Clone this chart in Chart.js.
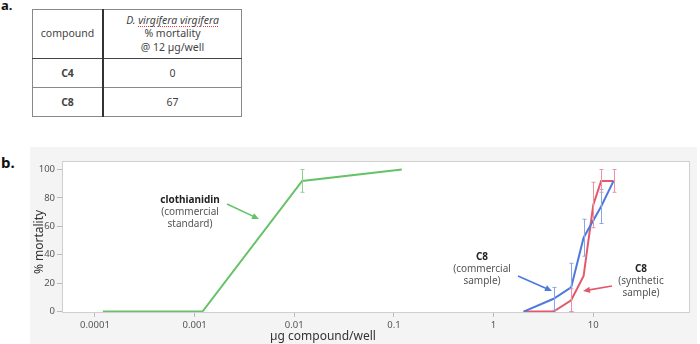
<!DOCTYPE html>
<html>
<head>
<meta charset="utf-8">
<script src="https://cdn.jsdelivr.net/npm/chart.js@4/dist/chart.umd.min.js"></script>
<style>
  html, body { margin: 0; padding: 0; background: #fff; }
  body { width: 700px; height: 344px; position: relative; overflow: hidden; font-family: "Noto Sans", sans-serif; }
  .lbl { position: absolute; font-weight: bold; color: #111; }
  #panel { position: absolute; left: 30px; top: 147px; width: 667px; height: 197px; background: #f4f4f4; }
  #chart { position: absolute; left: 0; top: 0; }
  table { position: absolute; left: 32px; top: 9px; width: 210px; border-collapse: collapse; font-size: 10.5px; color: #444; }
  td { border: 1px solid #888; text-align: center; padding: 0; }
  td.c1 { width: 69px; border-right: 2px solid #333; }
  tr.h td { height: 48px; line-height: 13.5px; border-bottom: 1px solid #444; }
  tr.r td { height: 28px; }
  .sp { text-decoration: underline dotted #e04040; text-decoration-thickness: 1px; text-underline-offset: 2px; }
</style>
</head>
<body>
<div class="lbl" style="left:1px; top:-4px; font-size:13px;">a.</div>
<div class="lbl" style="left:1px; top:152px; font-size:15px;">b.</div>

<table>
  <tr class="h"><td class="c1">compound</td><td><i>D. <span class="sp">virgifera</span> <span class="sp">virgifera</span></i><br>% mortality<br>@ 12 µg/well</td></tr>
  <tr class="r"><td class="c1"><b>C4</b></td><td>0</td></tr>
  <tr class="r"><td class="c1"><b>C8</b></td><td>67</td></tr>
</table>

<div id="panel"></div>
<canvas id="chart" width="700" height="344"></canvas>

<script>
// tick labels
const xTicks = [0.0001, 0.001, 0.01, 0.1, 1, 10];
const yTicks = [0, 20, 40, 60, 80, 100];

// clothianidin (commercial standard)
const clothDose = [0.00012, 0.0012, 0.012, 0.12];
const clothMort = [0, 0, 92, 100];
const clothErr  = [0, 0, 8, 0];

// C8 commercial sample
const c8comDose = [2, 4, 6, 8, 12, 16];
const c8comMort = [0, 9, 17, 52, 74, 92];
const c8comErr  = [0, 8, 17, 13, 12, 0];

// C8 synthetic sample
const c8synDose = [2, 4, 6, 8, 10, 12, 16];
const c8synMort = [0, 0, 8, 25, 75, 92, 92];
const c8synErr  = [0, 0, 8, 0, 16, 8, 8];

const GREEN = '#66c266';
const BLUE = '#4d79dc';
const RED = '#e2596b';

function points(xs, ys, errs) {
    return xs.map((x, i) => ({ x: x, y: ys[i], err: errs[i] }));
}

function arrow(ctx, x1, y1, x2, y2, color) {
    const a = Math.atan2(y2 - y1, x2 - x1);
    ctx.save();
    ctx.strokeStyle = color;
    ctx.fillStyle = color;
    ctx.lineWidth = 1.6;
    ctx.beginPath();
    ctx.moveTo(x1, y1);
    ctx.lineTo(x2 - 5 * Math.cos(a), y2 - 5 * Math.sin(a));
    ctx.stroke();
    ctx.beginPath();
    ctx.moveTo(x2, y2);
    ctx.lineTo(x2 - 7 * Math.cos(a) + 3.2 * Math.sin(a), y2 - 7 * Math.sin(a) - 3.2 * Math.cos(a));
    ctx.lineTo(x2 - 7 * Math.cos(a) - 3.2 * Math.sin(a), y2 - 7 * Math.sin(a) + 3.2 * Math.cos(a));
    ctx.closePath();
    ctx.fill();
    ctx.restore();
}

function note(ctx, cx, cy, lines) {
    ctx.save();
    ctx.textAlign = 'center';
    ctx.textBaseline = 'middle';
    lines.forEach((t, i) => {
        ctx.font = (i === 0 ? 'bold ' : '') + '10px "Noto Sans", sans-serif';
        ctx.fillStyle = i === 0 ? '#222' : '#555';
        ctx.fillText(t, cx, cy + i * 12);
    });
    ctx.restore();
}

const decor = {
    id: 'decor',
    beforeDraw(chart) {
        const { ctx, chartArea: a } = chart;
        ctx.save();
        ctx.fillStyle = '#ffffff';
        ctx.fillRect(a.left, a.top, a.right - a.left, a.bottom - a.top);
        ctx.restore();
    },
    afterDatasetsDraw(chart) {
        const { ctx, chartArea: a, scales } = chart;
        ctx.save();
        ctx.strokeStyle = '#cfcfcf';
        ctx.lineWidth = 1;
        ctx.strokeRect(a.left + 0.5, a.top + 0.5, a.right - a.left - 1, a.bottom - a.top - 1);

        // error bars
        chart.data.datasets.forEach(ds => {
            ctx.strokeStyle = ds.errColor;
            ctx.lineWidth = 1;
            ds.data.forEach(p => {
                if (!p.err) return;
                const x = Math.round(scales.x.getPixelForValue(p.x)) + 0.5;
                const yt = scales.y.getPixelForValue(Math.min(p.y + p.err, 106));
                const yb = scales.y.getPixelForValue(Math.max(p.y - p.err, 0));
                ctx.beginPath();
                ctx.moveTo(x, yt); ctx.lineTo(x, yb);
                ctx.moveTo(x - 2, yt); ctx.lineTo(x + 2, yt);
                ctx.moveTo(x - 2, yb); ctx.lineTo(x + 2, yb);
                ctx.stroke();
            });
        });

        // annotations
        note(ctx, 190, 200, ['clothianidin', '(commercial', 'standard)']);
        arrow(ctx, 227, 204, 259, 219, GREEN);
        note(ctx, 482, 257, ['C8', '(commercial', 'sample)']);
        arrow(ctx, 518, 276, 552, 291, BLUE);
        note(ctx, 641, 269, ['C8', '(synthetic', 'sample)']);
        arrow(ctx, 612, 286, 583, 291, RED);

        // axis titles
        ctx.fillStyle = '#333';
        ctx.font = '12px "Noto Sans", sans-serif';
        ctx.textAlign = 'center';
        ctx.textBaseline = 'middle';
        ctx.fillText('µg compound/well', 323, 337);
        ctx.translate(40, 242);
        ctx.rotate(-Math.PI / 2);
        ctx.fillText('% mortality', 0, 0);
        ctx.restore();
    }
};

new Chart(document.getElementById('chart').getContext('2d'), {
    type: 'line',
    data: {
        datasets: [
            { label: 'clothianidin', data: points(clothDose, clothMort, clothErr), borderColor: GREEN, errColor: '#8fd08f' },
            { label: 'C8 commercial', data: points(c8comDose, c8comMort, c8comErr), borderColor: BLUE, errColor: '#8aa6e6' },
            { label: 'C8 synthetic', data: points(c8synDose, c8synMort, c8synErr), borderColor: RED, errColor: '#ec93a0' }
        ]
    },
    options: {
        responsive: false,
        animation: false,
        events: [],
        layout: { padding: { top: 161, right: 10, left: 0, bottom: 0 } },
        elements: {
            line: { borderWidth: 2, tension: 0 },
            point: { radius: 0 }
        },
        plugins: {
            legend: { display: false },
            tooltip: { enabled: false }
        },
        scales: {
            x: {
                type: 'logarithmic',
                min: 4.67e-5,
                max: 93.5,
                afterBuildTicks: s => { s.ticks = xTicks.map(v => ({ value: v })); },
                afterFit: s => { s.height = 31; },
                ticks: {
                    callback: v => String(v),
                    color: '#555',
                    font: { size: 9.5, family: '"Noto Sans", sans-serif' },
                    padding: 3,
                    maxRotation: 0,
                    autoSkip: false
                },
                grid: { drawOnChartArea: false, tickLength: 4, color: '#bbb' },
                border: { display: false }
            },
            y: {
                min: -1,
                max: 106,
                afterBuildTicks: s => { s.ticks = yTicks.map(v => ({ value: v })); },
                afterFit: s => { s.width = 62; },
                ticks: {
                    color: '#555',
                    font: { size: 9.5, family: '"Noto Sans", sans-serif' },
                    padding: 2
                },
                grid: { drawOnChartArea: false, tickLength: 5, color: '#bbb' },
                border: { display: false }
            }
        }
    },
    plugins: [decor]
});
</script>
</body>
</html>
